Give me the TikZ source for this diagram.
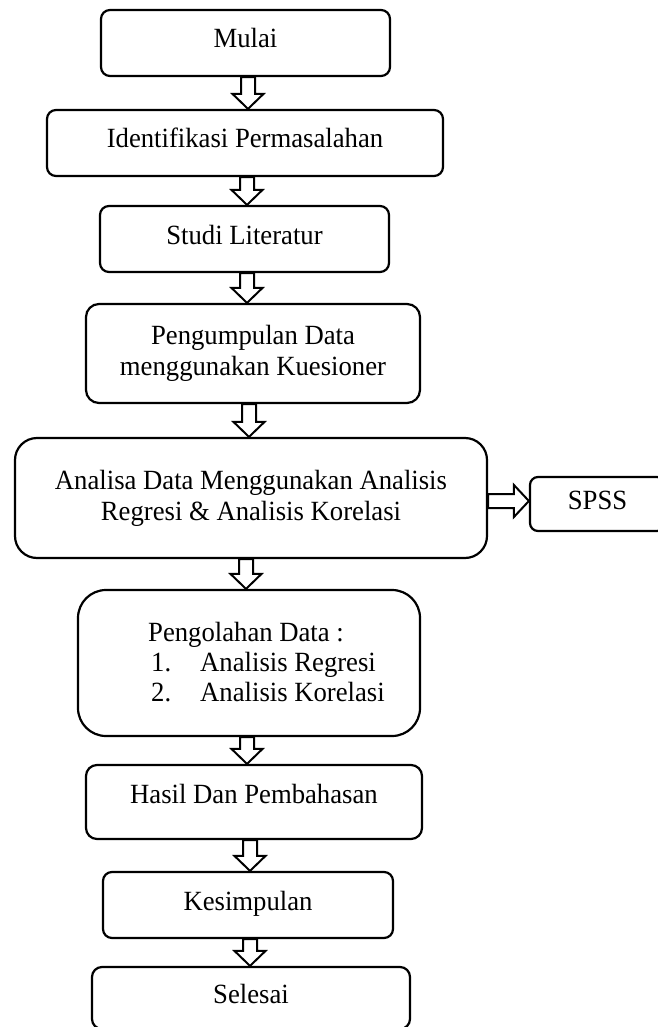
\documentclass[tikz,border=0pt]{standalone}
\usepackage{fontspec}
\setmainfont{Liberation Serif}[FakeStretch=0.96]
\usetikzlibrary{calc}
\tikzset{
  box/.style={draw=black, line width=2.2pt, rounded corners=9pt, inner sep=0pt,
    font=\fontsize{27.8}{31}\selectfont, align=center},
  onel/.style={text height=18pt, text depth=8pt},
  blockarr/.style={draw=black, fill=white, line width=2pt, line join=miter},
  txt/.style={inner sep=0pt, font=\fontsize{27.8}{30}\selectfont}
}
\newcommand{\dnarrow}[3]{%
  \draw[blockarr] let \p1=(#1.south), \p2=(#2.north) in
    ({(#3-7)*1pt},\y1) -- ({(#3+7)*1pt},\y1) -- ({(#3+7)*1pt},\y2+15pt)
    -- ({(#3+15.5)*1pt},\y2+15pt) -- ({#3*1pt},\y2) -- ({(#3-15.5)*1pt},\y2+15pt)
    -- ({(#3-7)*1pt},\y2+15pt) -- cycle;}
\begin{document}
\begin{tikzpicture}[x=1pt,y=-1pt]
\useasboundingbox (0,0) rectangle (657,1027);
\fill[white] (0,0) rectangle (657,1027);

\node[box,onel,minimum width=289pt,minimum height=66pt] (mulai) at (245.5,43) {Mulai};
\node[box,onel,minimum width=396pt,minimum height=66pt] (ident) at (245,143) {Identifikasi Permasalahan};
\node[box,onel,minimum width=289pt,minimum height=66pt] (studi) at (244.5,239) {Studi Literatur};
\node[box,rounded corners=13pt,minimum width=334pt,minimum height=99pt] (kumpul) at (253,353.5) {Pengumpulan Data\\menggunakan Kuesioner};
\node[box,rounded corners=22pt,minimum width=472pt,minimum height=120pt] (ana) at (251,498) {Analisa Data Menggunakan Analisis\\Regresi \& Analisis Korelasi};
\node[box,onel,rounded corners=8pt,minimum width=135pt,minimum height=54pt] (spss) at (597.5,504) {SPSS};
\node[box,rounded corners=28pt,minimum width=342pt,minimum height=146pt] (olah) at (249,663) {};
\node[txt,anchor=base west] (olahtxt) at (148,641) {\begin{tabular}[t]{@{}l@{}}Pengolahan Data :\\
  \hspace{3pt}\makebox[49pt][l]{1.}Analisis Regresi\\
  \hspace{3pt}\makebox[49pt][l]{2.}Analisis Korelasi\end{tabular}};
\node[box,text height=18pt,text depth=16pt,rounded corners=11pt,minimum width=336pt,minimum height=74pt] (hasil) at (254,802) {Hasil Dan Pembahasan};
\node[box,onel,minimum width=290pt,minimum height=66pt] (simpul) at (248,905) {Kesimpulan};
\node[box,onel,rounded corners=10pt,minimum width=318pt,minimum height=62pt] (selesai) at (251,998) {Selesai};

\dnarrow{mulai}{ident}{248}
\dnarrow{ident}{studi}{247}
\dnarrow{studi}{kumpul}{247}
\dnarrow{kumpul}{ana}{249}
\dnarrow{ana}{olah}{246}
\dnarrow{olah}{hasil}{247}
\dnarrow{hasil}{simpul}{250}
\dnarrow{simpul}{selesai}{250}

\draw[blockarr] let \p1=(ana.east), \p2=(spss.west) in
  (\x1,-494pt) -- (\x2-15pt,-494pt) -- (\x2-15pt,-485pt) -- (\x2,-501pt)
  -- (\x2-15pt,-517pt) -- (\x2-15pt,-508pt) -- (\x1,-508pt) -- cycle;
\end{tikzpicture}
\end{document}
